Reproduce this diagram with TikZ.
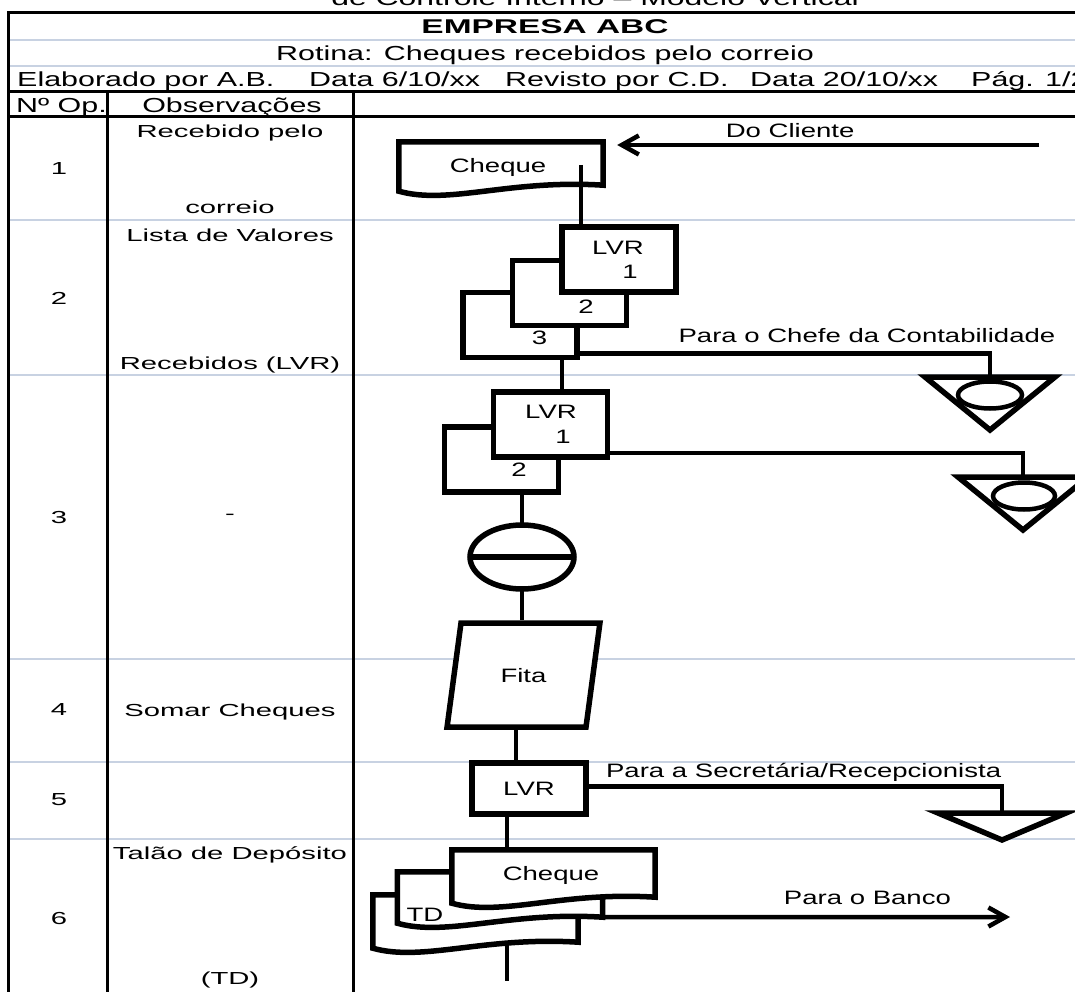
\documentclass[tikz,border=0pt]{standalone}
\usepackage{fontspec}
\setmainfont{Liberation Sans}
\newfontfamily\cabfont{Liberation Sans}[FakeStretch=1.5]
\newfontfamily\obsfont{Liberation Sans}[FakeStretch=1.68]
\newfontfamily\lblfont{Liberation Sans}[FakeStretch=1.42]
\usetikzlibrary{positioning,shapes.geometric,arrows.meta}
\definecolor{linhaclara}{RGB}{200,210,226}

% documento com base ondulada, desenhado em volta de um node vazio
\newcommand{\documento}[1]{%
  \draw[forma,fill=white] (#1.south east) -- (#1.north east) -- (#1.north west)
    -- ([yshift=-6pt]#1.south west) .. controls +(50,14) and +(-94,-6) .. (#1.south east) -- cycle;}

\begin{document}
\begin{tikzpicture}[x=1pt,y=-1pt,
  forma/.style={line width=5.5pt,line join=miter},
  liga/.style={line width=4.5pt},
  seta/.style={liga,-{Straight Barb[length=17pt,width=19pt]}},
  caixa/.style={draw,forma,fill=white,minimum width=114,minimum height=65,inner sep=0pt},
  docbox/.style={inner sep=0pt},
  txt/.style={font=\lblfont\fontsize{19.4}{22}\selectfont,inner sep=0pt,text depth=0pt},
  obs/.style={font=\obsfont\fontsize{17.4}{21}\selectfont,inner sep=0pt,text depth=0pt},
  cab/.style={font=\cabfont\fontsize{20.3}{24}\selectfont,inner sep=0pt,text depth=0pt},
  grade/.style={line width=3pt},
  clara/.style={line width=2.4pt,linhaclara}]
  \useasboundingbox (0,0) rectangle (1075,992);
  \clip (0,0) rectangle (1075,992);

  % grade da tabela
  \foreach \y in {40,66,220,375,659,762,839}
    \draw[clara] (8,\y) -- (1085,\y);
  \draw[grade] (1085,13) -- (8,13) -- (8,1000);
  \draw[grade] (8,92) -- (1085,92);
  \draw[grade] (8,117) -- (1085,117);
  \draw[grade] (107,92) -- (107,1000);
  \draw[grade] (353,92) -- (353,1000);

  % cabecalho
  \node[font=\cabfont\fontsize{21.3}{24}\selectfont,inner sep=0pt,anchor=base] (titulo) at (595,6) {de Controle Interno – Modelo Vertical};
  \node[font=\obsfont\bfseries\fontsize{19.9}{24}\selectfont,inner sep=0pt,text depth=0pt] (empresa) at (545,27) {EMPRESA ABC};
  \node[cab] (rotina) at (545,53) {Rotina: Cheques recebidos pelo correio};
  \node[cab,anchor=west] (elab) at (17,79) {Elaborado por A.B.};
  \node[cab,anchor=west] (data1) at (309,79) {Data 6/10/xx};
  \node[cab,anchor=west] (rev) at (505,79) {Revisto por C.D.};
  \node[cab,anchor=west] (data2) at (750,79) {Data 20/10/xx};
  \node[cab,anchor=west] (pag) at (971,79) {Pág. 1/2};
  \node[cab,anchor=west] (nop) at (16,105) {Nº Op.};
  \node[cab] (obscab) at (232,105) {Observações};

  % colunas de numero e observacoes
  \foreach \n/\y in {1/169,2/298,3/517,4/710,5/800,6/918}
    \node[obs] (op\n) at (59,\y) {\n};
  \node[obs] (obs1a) at (230,131) {Recebido pelo};
  \node[obs] (obs1b) at (230,207) {correio};
  \node[obs] (obs2a) at (230,235) {Lista de Valores};
  \node[obs] (obs2b) at (230,363) {Recebidos (LVR)};
  \node[obs] (obs3) at (230,517) {-};
  \node[obs] (obs4) at (230,710) {Somar Cheques};
  \node[obs] (obs6a) at (230,853) {Talão de Depósito};
  \node[obs] (obs6b) at (230,978) {(TD)};

  % 1 - cheque recebido
  \node[docbox,minimum width=204,minimum height=43] (cheque) at (501,163.5) {};
  \documento{cheque}
  \node[txt] (tcheque) at (498,165) {Cheque};
  \coordinate (cliente) at (1039,145);
  \draw[seta] (cliente) -- ([xshift=14pt]cheque.north east |- cliente) node[txt,pos=.59,above=5pt] {Do Cliente};

  % 2 - LVR em 3 vias
  \node[caixa] (lvr3) at (520,325) {};
  \node[caixa] (lvr2) at (569.5,293) {};
  \node[caixa] (lvr1) at (619,259.5) {};
  \node[txt] (tlvr1) at (618,248) {LVR};
  \node[txt] (via1) at (630,272) {1};
  \node[txt] (via2) at (586,307) {2};
  \node[txt] (via3) at (539.5,338) {3};
  \coordinate (c1) at (581,165);
  \draw[liga] (c1) -- (c1 |- lvr1.north);
  \coordinate (arq1) at (990,377);
  \draw[liga] ([yshift=7pt]lvr3.south east) -| (arq1) node[txt,pos=.35,above=9pt] {Para o Chefe da Contabilidade};
  \draw[forma,fill=white] (arq1) ++(-65,0) -- ++(130,0) -- ++(-65,53) -- cycle;
  \node[draw,ellipse,liga,minimum width=64,minimum height=27,inner sep=0pt] (el1) at (990,395) {};

  % 3 - LVR em 2 vias e conferencia
  \node[caixa] (lvrb2) at (501.5,459.5) {};
  \node[caixa] (lvrb1) at (550.5,424.5) {};
  \node[txt] (tlvrb1) at (551,412) {LVR};
  \node[txt] (viab1) at (563,437) {1};
  \node[txt] (viab2) at (519,470) {2};
  \draw[liga] ([xshift=42pt]lvr3.south) -- ([xshift=42pt]lvr3.south |- lvrb1.north);
  \coordinate (arq2) at (1023,477);
  \draw[liga] ([yshift=7pt]lvrb1.south east) -| (arq2);
  \draw[forma,fill=white] (arq2) ++(-65,0) -- ++(130,0) -- ++(-65,53) -- cycle;
  \node[draw,ellipse,liga,minimum width=62,minimum height=27,inner sep=0pt] (el2) at (1024,496) {};
  \node[draw,ellipse,forma,fill=white,minimum width=104,minimum height=64,inner sep=0pt,outer sep=0pt] (conf) at (522,557) {};
  \draw[forma] (conf.west) -- (conf.east);
  \draw[liga] (conf.north |- lvrb2.south) -- (conf.north);

  % 4 - fita da somadora
  \node[draw,forma,fill=white,trapezium,trapezium left angle=70,trapezium right angle=110,
        trapezium stretches=true,minimum width=153,minimum height=104,inner sep=0pt,txt] (fita) at (523.5,675) {Fita};
  \draw[liga] (conf.south) -- (conf.south |- fita.top side);

  % 5 - LVR para a secretaria
  \node[caixa,minimum height=51,txt] (lvrc) at (529,788.5) {LVR};
  \draw[liga] (fita.bottom side) -- (fita.bottom side |- lvrc.north);
  \coordinate (arq3) at (1002,813);
  \draw[liga] ([yshift=2pt]lvrc.east) -| (arq3) node[txt,pos=.26,above=7pt] {Para a Secretária/Recepcionista};
  \draw[forma,fill=white] (arq3) ++(-64,0) -- ++(128,0) -- ++(-64,27) -- cycle;

  % 6 - deposito
  \node[docbox,minimum width=205,minimum height=47] (doc3) at (475.5,918.5) {};
  \documento{doc3}
  \node[docbox,minimum width=205,minimum height=45] (td) at (500,894.5) {};
  \documento{td}
  \node[docbox,minimum width=203,minimum height=47] (cheque2) at (553.5,873.5) {};
  \documento{cheque2}
  \node[txt] (tcheque2) at (551,873) {Cheque};
  \node[txt,anchor=south west] (ttd) at ([xshift=9pt,yshift=-4pt]td.south west) {TD};
  \draw[liga] ([xshift=-22pt]lvrc.south) -- ([xshift=-22pt]lvrc.south |- cheque2.north);
  \coordinate (fim) at (507,981);
  \draw[liga] (fim |- doc3.south) -- (fim);
  \coordinate (banco) at (1010,917);
  \draw[seta] (td.south east) -- (banco) node[txt,pos=.65,above=10pt] {Para o Banco};
\end{tikzpicture}
\end{document}
